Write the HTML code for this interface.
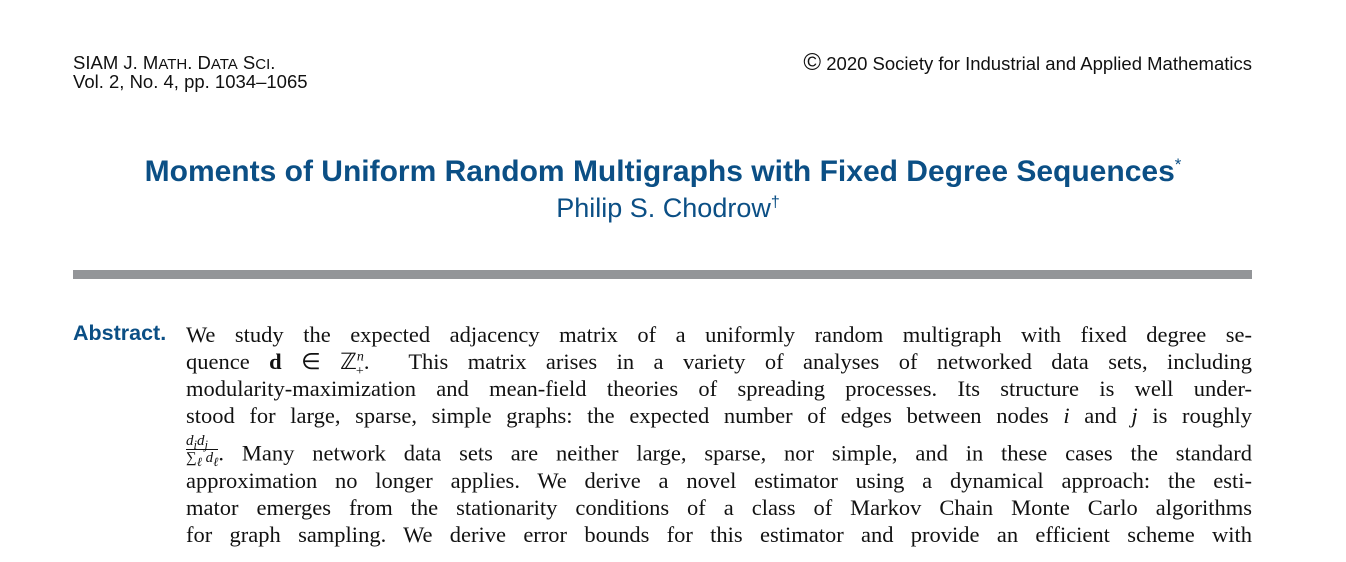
<!DOCTYPE html>
<html><head><meta charset="utf-8"><style>
body{margin:0;width:1346px;height:562px;overflow:hidden;background:#fff;position:relative;font-family:"Liberation Serif",serif;color:#111}
.hd{position:absolute;font-family:"Liberation Sans",sans-serif;font-size:18.5px;color:#111}
.title{position:absolute;left:0;width:1326px;text-align:center;font-family:"Liberation Sans",sans-serif;font-weight:bold;color:#0b4f85;font-size:30px;top:155px}
.auth{position:absolute;left:0;width:1336px;text-align:center;font-family:"Liberation Sans",sans-serif;color:#0b4f85;font-size:27px;top:193px}
.rule{position:absolute;left:73px;top:270px;width:1179px;height:9px;background:#939598}
.abs{position:absolute;left:73px;top:321px;font-family:"Liberation Sans",sans-serif;font-weight:bold;color:#0b4f85;font-size:21.5px}
.ln{position:absolute;left:186px;width:1066px;font-size:22.5px;text-align:justify;text-align-last:justify;white-space:nowrap;line-height:27px;height:27px}
.ln sup,.ln sub{line-height:0}
.frac{display:inline-block;vertical-align:middle;text-align:center;font-style:italic;font-size:15px;line-height:16px;position:relative;top:-6px}
.frac span{display:block}
</style></head><body>
<div class="hd" style="left:73px;top:52px">SIAM J. M<span style="font-size:15px">ATH</span>. D<span style="font-size:15px">ATA</span> S<span style="font-size:15px">CI</span>.</div>
<div class="hd" style="left:73px;top:71px">Vol. 2, No. 4, pp. 1034–1065</div>
<div class="hd" style="right:94px;top:53px"><span style="font-size:24px;line-height:17px">©</span> 2020 Society for Industrial and Applied Mathematics</div>
<div class="title">Moments of Uniform Random Multigraphs with Fixed Degree Sequences<sup style="font-size:17px;font-weight:normal">*</sup></div>
<div class="auth">Philip S. Chodrow<sup style="font-size:16px">†</sup></div>
<div class="rule"></div>
<div class="abs">Abstract.</div>
<div>
<div class="ln" style="top:321px">We study the expected adjacency matrix of a uniformly random multigraph with fixed degree se-</div>
<div class="ln" style="top:348px">quence <b>d</b> ∈ ℤ<sup style="font-size:14px"><i>n</i></sup><sub style="font-size:14px;margin-left:-8px">+</sub>. &nbsp;This matrix arises in a variety of analyses of networked data sets, including</div>
<div class="ln" style="top:375px">modularity-maximization and mean-field theories of spreading processes. Its structure is well under-</div>
<div class="ln" style="top:402px">stood for large, sparse, simple graphs: the expected number of edges between nodes <i>i</i> and <i>j</i> is roughly</div>
<div class="ln" style="top:439px"><span class="frac"><span style="border-bottom:1px solid #111">d<sub>i</sub>d<sub>j</sub></span><span>∑<sub>ℓ</sub> d<sub>ℓ</sub></span></span>. Many network data sets are neither large, sparse, nor simple, and in these cases the standard</div>
<div class="ln" style="top:467px">approximation no longer applies. We derive a novel estimator using a dynamical approach: the esti-</div>
<div class="ln" style="top:494px">mator emerges from the stationarity conditions of a class of Markov Chain Monte Carlo algorithms</div>
<div class="ln" style="top:521px">for graph sampling. We derive error bounds for this estimator and provide an efficient scheme with</div>
</div>
</body></html>
